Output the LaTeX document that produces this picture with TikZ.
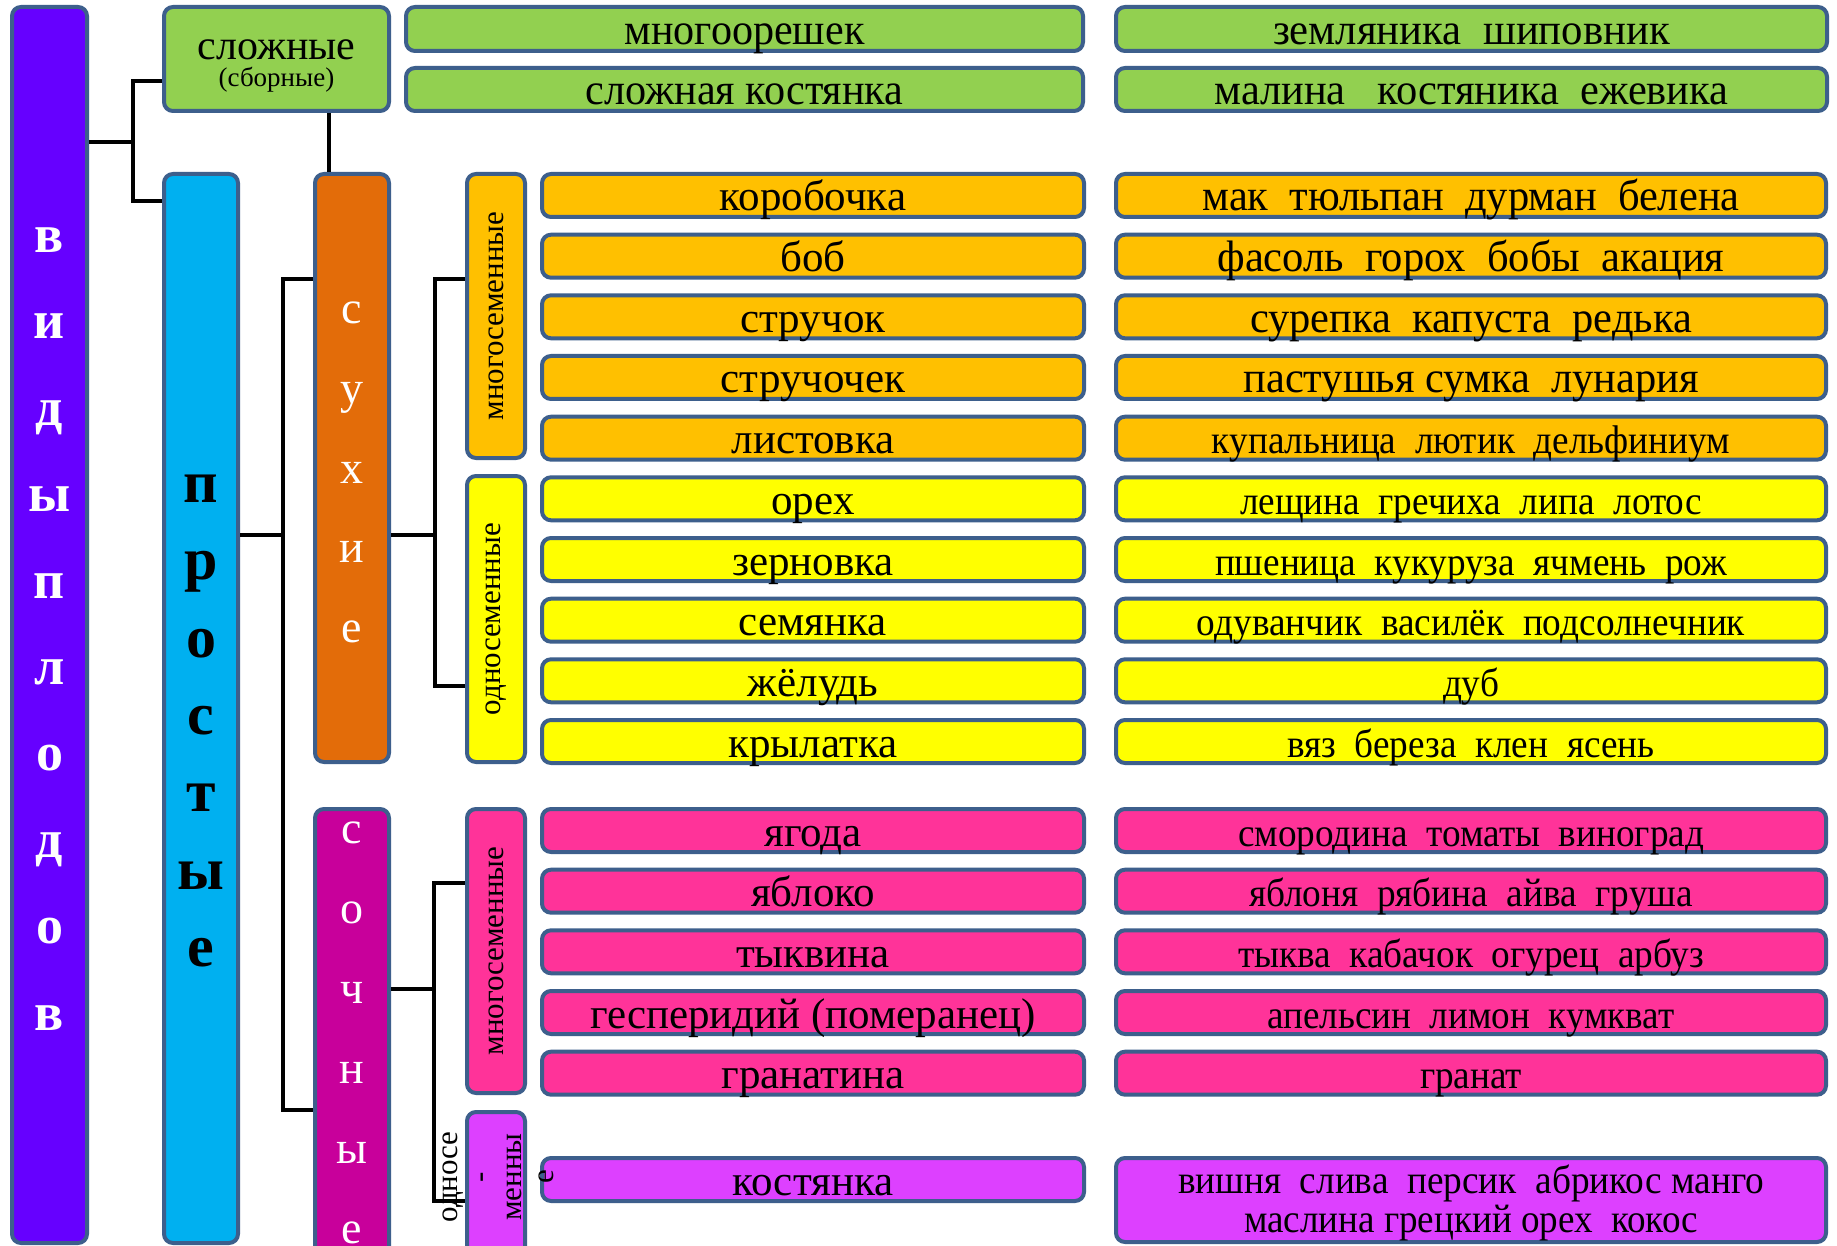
\documentclass[tikz,border=0pt]{standalone}
\usepackage{fontspec}
\setmainfont{Liberation Serif}
\usepackage{graphicx}
\newcommand\fw[2]{\resizebox{#1pt}{\height}{#2}}
\definecolor{bord}{HTML}{3D5F8C}
\definecolor{cvid}{HTML}{6600FF}
\definecolor{cgreen}{HTML}{92D050}
\definecolor{cblue}{HTML}{00B0F0}
\definecolor{csuh}{HTML}{E36C09}
\definecolor{corange}{HTML}{FFC000}
\definecolor{cyellow}{HTML}{FFFF00}
\definecolor{csoch}{HTML}{C8009B}
\definecolor{cpink}{HTML}{FF3399}
\definecolor{clil}{HTML}{DD40FF}
\tikzset{
  bx/.style={draw=bord, line width=4pt, rounded corners=9pt, inner sep=0pt},
  rowbox/.style={bx, minimum height=43pt},
  rowtxt/.style={text height=31pt, text depth=0pt},
  conn/.style={draw=black, line width=3.5pt},
  stack/.style={align=center, inner sep=0pt},
  plain/.style={inner sep=0pt},
}
\newcommand\rowpair[7]{%
  \node[rowbox, rowtxt, fill=#3, minimum width=542pt, font=\fontsize{43}{50}\selectfont] (#1a) at (813,-#2) {#4};
  \node[rowbox, rowtxt, fill=#3, minimum width=710pt, font=\fontsize{#5}{#5}\selectfont] (#1b) at (1471,-#2) {\fw{#6}{#7}};
}
\begin{document}
\begin{tikzpicture}[x=1pt,y=1pt]
\fill[white] (0,0) rectangle (1837,-1246);
\useasboundingbox (0,0) rectangle (1837,-1246);

% column boxes
\node[bx, fill=cvid, minimum width=75pt, minimum height=1236pt] (vid) at (49.5,-625) {};
\node[bx, fill=cgreen, minimum width=225pt, minimum height=104pt] (slozh) at (276.5,-59) {};
\node[bx, fill=cblue, minimum width=74pt, minimum height=1069pt] (prost) at (201,-708.5) {};
\node[bx, fill=csuh, minimum width=74pt, minimum height=588pt] (suh) at (352,-468) {};
\node[bx, fill=csoch, minimum width=74pt, minimum height=459pt] (soch) at (352,-1038.5) {};
\node[bx, fill=corange, minimum width=58pt, minimum height=284pt, font=\fontsize{31}{31}\selectfont] (mn1) at (496,-316) {\rotatebox{90}{многосеменные}};
\node[bx, fill=cyellow, minimum width=58pt, minimum height=286pt, font=\fontsize{31}{31}\selectfont] (od1) at (496,-619) {\rotatebox{90}{односеменные}};
\node[bx, fill=cpink, minimum width=58pt, minimum height=284pt, font=\fontsize{31}{31}\selectfont] (mn2) at (496,-951) {\rotatebox{90}{многосеменные}};
\node[bx, fill=clil, minimum width=58pt, minimum height=156pt] (od2) at (496,-1190) {};

% connectors
\coordinate (j1) at (133,-142);
\coordinate (j1a) at (133,-81);
\coordinate (j1b) at (133,-201);
\draw[conn] (vid.east |- j1) -- (j1);
\draw[conn] (slozh.west |- j1a) -- (j1a) -- (j1b) -- (prost.west |- j1b);
\coordinate (c1) at (329,0);
\draw[conn] (slozh.south -| c1) -- (suh.north -| c1);
\coordinate (j2) at (283,-535);
\coordinate (j2a) at (283,-279);
\coordinate (j2b) at (283,-1110);
\draw[conn] (prost.east |- j2) -- (j2);
\draw[conn] (suh.west |- j2a) -- (j2a) -- (j2b) -- (soch.west |- j2b);
\coordinate (j3) at (435,-535);
\coordinate (j3a) at (435,-279);
\coordinate (j3b) at (435,-686);
\draw[conn] (suh.east |- j3) -- (j3);
\draw[conn] (mn1.west |- j3a) -- (j3a) -- (j3b) -- (od1.west |- j3b);
\coordinate (j4) at (434,-989);
\coordinate (j4a) at (434,-883);
\coordinate (j4b) at (434,-1201);
\draw[conn] (soch.east |- j4) -- (j4);
\draw[conn] (mn2.west |- j4a) -- (j4a) -- (j4b) -- (od2.west |- j4b);

% letter stacks
\node[stack, text=white, font=\fontsize{54}{86.4}\selectfont\bfseries] (tvid) at (49.5,-629) {в\\и\\д\\ы\\п\\л\\о\\д\\о\\в};
\node[stack, text=black, font=\fontsize{60}{77.3}\selectfont\bfseries] (tprost) at (201,-721) {п\\р\\о\\с\\т\\ы\\е};
\node[stack, text=white, font=\fontsize{46}{79.75}\selectfont] (tsuh) at (352,-472.5) {с\\у\\х\\и\\е};
\node[stack, text=white, font=\fontsize{46}{80}\selectfont] (tsoch) at (352,-1033) {с\\о\\ч\\н\\ы\\е};
\node[plain, anchor=base, font=\fontsize{42}{48}\selectfont] (tsl1) at (276.5,-60) {сложные};
\node[plain, anchor=base, font=\fontsize{27}{32}\selectfont] (tsl2) at (276.5,-87) {(сборные)};

% green rows
\node[bx, rowtxt, fill=cgreen, minimum width=677pt, minimum height=44pt, font=\fontsize{44}{44}\selectfont] (g1a) at (744.5,-29) {\fw{240}{многоорешек}};
\node[bx, rowtxt, fill=cgreen, minimum width=711pt, minimum height=44pt, font=\fontsize{44}{44}\selectfont] (g1b) at (1471.5,-29) {\fw{397}{земляника~ шиповник}};
\node[bx, rowtxt, fill=cgreen, minimum width=677pt, minimum height=43pt, font=\fontsize{44}{44}\selectfont] (g2a) at (744.5,-89.5) {\fw{318}{сложная костянка}};
\node[bx, rowtxt, fill=cgreen, minimum width=711pt, minimum height=43pt, font=\fontsize{44}{44}\selectfont] (g2b) at (1471.5,-89.5) {\fw{514}{малина~~ костяника~ ежевика}};

% rows
\rowpair{o1}{195.5}{corange}{коробочка}{44}{537}{мак~ тюльпан~ дурман~ белена}
\rowpair{o2}{256.2}{corange}{боб}{44}{507}{фасоль~ горох~ бобы~ акация}
\rowpair{o3}{316.8}{corange}{стручок}{44}{442}{сурепка~ капуста~ редька}
\rowpair{o4}{377.5}{corange}{стручочек}{44}{455}{пастушья сумка~ лунария}
\rowpair{o5}{438.2}{corange}{листовка}{40}{518}{купальница~ лютик~ дельфиниум}
\rowpair{y1}{498.8}{cyellow}{орех}{40}{462}{лещина~ гречиха~ липа~ лотос}
\rowpair{y2}{559.5}{cyellow}{зерновка}{40}{512}{пшеница~ кукуруза~ ячмень~ рож}
\rowpair{y3}{620.2}{cyellow}{семянка}{40}{548}{одуванчик~ василёк~ подсолнечник}
\rowpair{y4}{680.8}{cyellow}{жёлудь}{40}{56}{дуб}
\rowpair{y5}{741.5}{cyellow}{крылатка}{40}{367}{вяз~ береза~ клен~ ясень}
\rowpair{p1}{830.5}{cpink}{ягода}{40}{466}{смородина~ томаты~ виноград}
\rowpair{p2}{891.2}{cpink}{яблоко}{40}{444}{яблоня~ рябина~ айва~ груша}
\rowpair{p3}{951.8}{cpink}{тыквина}{40}{466}{тыква~ кабачок~ огурец~ арбуз}
\rowpair{p4}{1012.5}{cpink}{гесперидий (померанец)}{40}{407}{апельсин~ лимон~ кумкват}
\rowpair{p5}{1073.2}{cpink}{гранатина}{40}{102}{гранат}

\node[rowbox, rowtxt, fill=clil, minimum width=542pt, font=\fontsize{43}{50}\selectfont] (k1a) at (813,-1179.5) {костянка};
\node[bx, fill=clil, minimum width=710pt, minimum height=84pt] (k1b) at (1471,-1200) {};
\node[plain, anchor=base, font=\fontsize{40}{40}\selectfont] (k1t1) at (1471,-1193) {\fw{586}{вишня~ слива~ персик~ абрикос манго}};
\node[plain, anchor=base, font=\fontsize{40}{40}\selectfont] (k1t2) at (1471,-1232) {\fw{454}{маслина грецкий орех~ кокос}};

% overflowing label of od2
\node[stack, rotate=90, font=\fontsize{31}{32}\selectfont] (tod2) at (498,-1177) {односе\\-\\менны\\е};
\end{tikzpicture}
\end{document}
